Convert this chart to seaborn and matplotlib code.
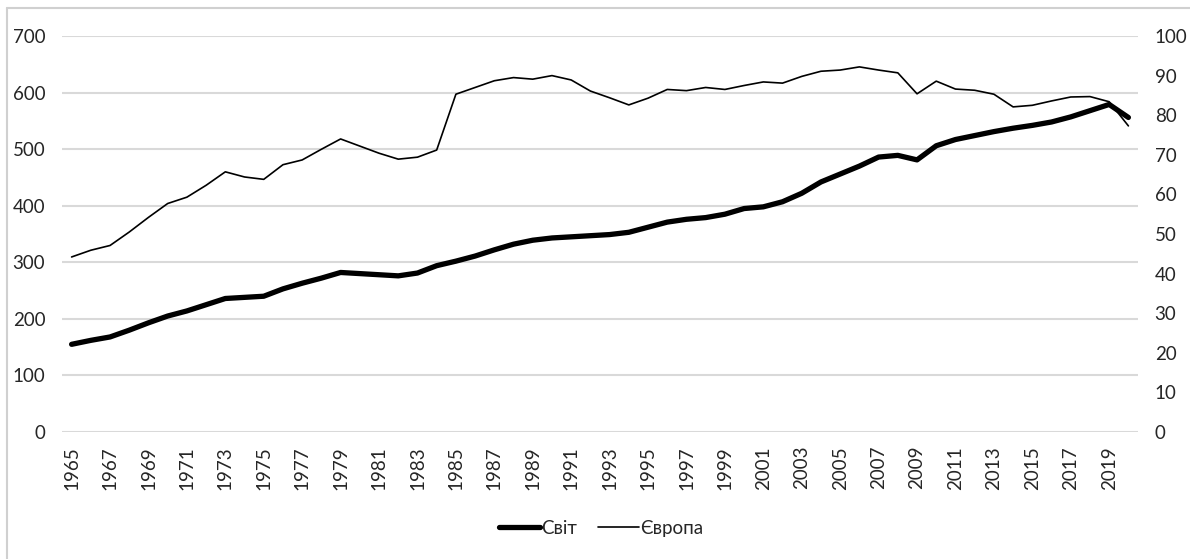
import pandas as pd
import numpy as np
import matplotlib.pyplot as plt
import seaborn as sns
from matplotlib.lines import Line2D

# data
years = list(range(1965, 2021))
svit = [155, 162, 168, 180, 193, 205, 214, 225, 236, 238, 240, 253, 263, 272, 282,
        280, 278, 276, 281, 294, 302, 311, 322, 332, 339, 343, 345, 347, 349, 353,
        362, 371, 376, 379, 385, 395, 398, 407, 422, 442, 456, 470, 486, 489, 481,
        506, 517, 524, 531, 537, 542, 548, 557, 568, 579, 556]
yevropa = [44.2, 45.9, 47.1, 50.5, 54.2, 57.7, 59.3, 62.3, 65.7, 64.4, 63.8, 67.5, 68.7,
           71.4, 74.0, 72.2, 70.4, 68.9, 69.4, 71.2, 85.3, 87.0, 88.7, 89.5, 89.1, 90.0,
           88.9, 86.1, 84.4, 82.6, 84.3, 86.5, 86.2, 87.0, 86.5, 87.5, 88.4, 88.1, 89.8,
           91.1, 91.4, 92.2, 91.4, 90.7, 85.4, 88.6, 86.6, 86.3, 85.3, 82.1, 82.5, 83.6,
           84.6, 84.7, 83.4, 77.3]

left_ticks = list(range(0, 701, 100))
right_ticks = list(range(0, 101, 10))
xtick_years = list(range(1965, 2020, 2))

df = pd.DataFrame({'year': years, 'svit': svit, 'yevropa': yevropa})

sns.set_style('white')
plt.rcParams['font.family'] = ['Lato', 'DejaVu Sans']
fs = 13.5

fig = plt.figure(figsize=(11.9, 5.59), dpi=100)
ax = fig.add_axes([62 / 1190, 1 - 432 / 559, (1138 - 62) / 1190, (432 - 36) / 559])
ax2 = ax.twinx()

sns.lineplot(data=df, x='year', y='svit', ax=ax, color='black', linewidth=3.8,
             solid_capstyle='round', zorder=3)
sns.lineplot(data=df, x='year', y='yevropa', ax=ax2, color='black', linewidth=1.2, zorder=3)

ax.set_xlim(1964.5, 2020.5)
ax.set_ylim(0, 700)
ax2.set_ylim(0, 100)
ax.set_yticks(left_ticks)
ax2.set_yticks(right_ticks)
ax.set_xticks(xtick_years)
ax.set_xticklabels([str(y) for y in xtick_years], rotation=90)

ax.grid(axis='y', color='#d9d9d9', linewidth=1.5)
ax.grid(axis='x', visible=False)
ax2.grid(False)
ax.set_axisbelow(True)
for a in (ax, ax2):
    for s in a.spines.values():
        s.set_visible(False)
    a.set_xlabel('')
    a.set_ylabel('')
ax.tick_params(axis='both', length=0, labelsize=fs, colors='#262626')
ax.tick_params(axis='y', pad=12)
ax2.tick_params(axis='y', length=0, labelsize=fs, colors='#262626', pad=12)
ax.tick_params(axis='x', pad=10)

# legend at the bottom
handles = [Line2D([], [], color='black', linewidth=3.8, solid_capstyle='round'),
           Line2D([], [], color='black', linewidth=1.2)]
fig.legend(handles, ['Світ', 'Європа'], loc='center', bbox_to_anchor=(0.505, 0.055),
           ncol=2, frameon=False, fontsize=fs, handlelength=2.2, handletextpad=0.05,
           columnspacing=1.1, labelcolor='#262626')

# light border of the chart area (cut on right and bottom)
fig.add_artist(Line2D([7 / 1190, 7 / 1190], [0, 1 - 8 / 559], color='#d0d0d0', linewidth=1.5,
                      transform=fig.transFigure))
fig.add_artist(Line2D([7 / 1190, 1], [1 - 8 / 559, 1 - 8 / 559], color='#d0d0d0', linewidth=1.5,
                      transform=fig.transFigure))

fig.savefig('out.png', dpi=100)
